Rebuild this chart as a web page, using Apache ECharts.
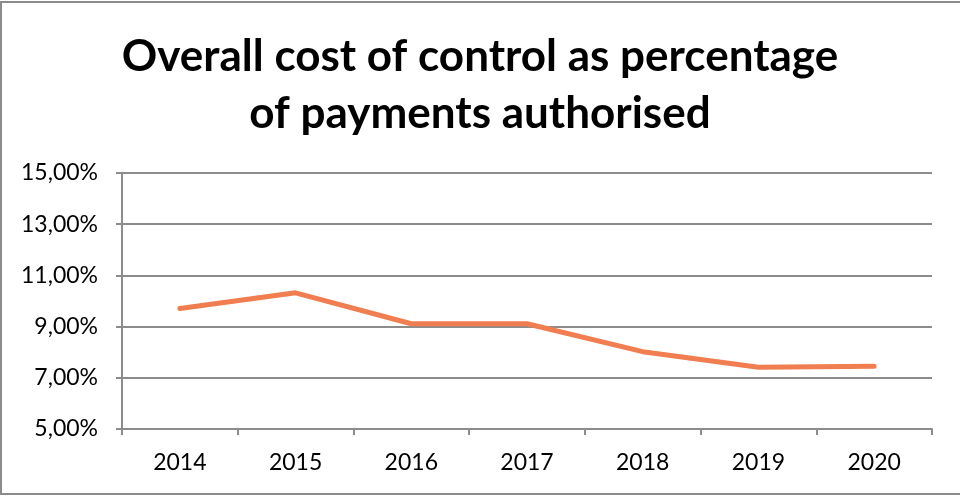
<!DOCTYPE html>
<html>
<head>
<meta charset="utf-8">
<script src="https://cdn.jsdelivr.net/npm/echarts@6/dist/echarts.min.js"></script>
<style>
  html, body { margin: 0; padding: 0; background: #fff; }
  #main { width: 960px; height: 496px; }
</style>
</head>
<body>
<div id="main"></div>
<script>
var myChart = echarts.init(document.getElementById('main'));

var years = ['2014', '2015', '2016', '2017', '2018', '2019', '2020'];
var costPct = [9.71, 10.32, 9.11, 9.11, 8.02, 7.41, 7.45];
var titleLines = ['Overall cost of control as percentage', 'of payments authorised'];

var axisGray = '#8c8c8c';
var font = 'Lato, "Open Sans", sans-serif';

option = {
    backgroundColor: '#fff',
    animation: false,
    title: {
        text: titleLines.join('\n'),
        left: 'center',
        top: 23,
        textStyle: {
            fontFamily: font,
            fontSize: 44,
            fontWeight: 'bold',
            color: '#000',
            lineHeight: 57
        }
    },
    grid: {
        left: 122,
        right: 28,
        top: 173,
        bottom: 67
    },
    xAxis: {
        type: 'category',
        data: years,
        boundaryGap: true,
        axisLine: { lineStyle: { color: axisGray, width: 2 } },
        axisTick: { show: true, length: 6, lineStyle: { color: axisGray, width: 2 } },
        axisLabel: { color: '#000', fontFamily: font, fontSize: 23, margin: 22 }
    },
    yAxis: {
        type: 'value',
        min: 5,
        max: 15,
        interval: 2,
        axisLine: { show: true, lineStyle: { color: axisGray, width: 2 } },
        axisTick: { show: true, length: 6, lineStyle: { color: axisGray, width: 2 } },
        splitLine: { lineStyle: { color: axisGray, width: 2 } },
        axisLabel: {
            color: '#000',
            fontFamily: font,
            fontSize: 23,
            margin: 24,
            formatter: function (v) {
                return v.toFixed(2).replace('.', ',') + '%';
            }
        }
    },
    graphic: [{
        type: 'rect',
        shape: { x: 1, y: 2, width: 1000, height: 492 },
        style: { fill: null, stroke: axisGray, lineWidth: 2 },
        silent: true
    }],
    series: [
        {
            type: 'line',
            data: costPct,
            symbol: 'none',
            lineStyle: { color: '#f07e50', width: 5, cap: 'round' }
        }
    ]
};

myChart.setOption(option);
</script>
</body>
</html>
